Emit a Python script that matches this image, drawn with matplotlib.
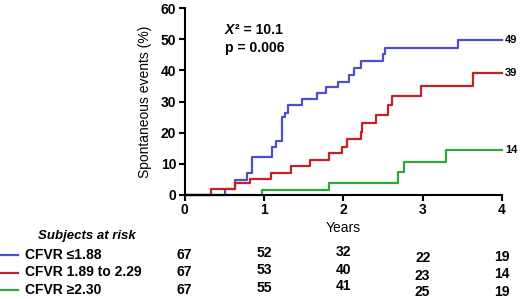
import matplotlib
matplotlib.use("Agg")
import matplotlib.pyplot as plt
import matplotlib.transforms as mtransforms

plt.rcParams['font.family'] = ['Liberation Sans', 'DejaVu Sans']

# ---- data ----
blue_t = [0, 0.51, 0.64, 0.79, 0.85, 1.10, 1.15, 1.23, 1.27, 1.31, 1.48, 1.67, 1.78, 1.93, 2.07, 2.14, 2.22, 2.50, 2.52, 3.45, 4.0]
blue_y = [0, 1.8, 4.8, 7.0, 12.3, 15.5, 17.4, 25.1, 26.2, 28.9, 30.7, 32.6, 34.5, 36.4, 38.5, 40.6, 43.1, 45.4, 47.1, 49.7, 49.7]
red_t = [0, 0.34, 0.64, 0.83, 1.09, 1.34, 1.58, 1.82, 1.99, 2.05, 2.22, 2.24, 2.41, 2.56, 2.62, 2.98, 3.64, 4.0]
red_y = [0, 1.8, 3.7, 5.0, 7.2, 9.3, 11.2, 13.4, 15.5, 17.9, 20.3, 23.0, 25.7, 28.9, 31.8, 35.1, 39.0, 39.0]
green_t = [0, 0.98, 1.82, 2.69, 2.77, 3.30, 4.0]
green_y = [0, 1.6, 3.9, 7.5, 10.5, 14.4, 14.4]

series_names = ["CFVR \u22641.88", "CFVR 1.89 to 2.29", "CFVR \u22652.30"]
end_labels = ["49", "39", "14"]
risk_times = [0, 1, 2, 3, 4]
risk_blue = [67, 52, 32, 22, 19]
risk_red = [67, 53, 40, 23, 14]
risk_green = [67, 55, 41, 25, 19]

colors = ["#4f4fc8", "#c42026", "#2ea83a"]

fig = plt.figure(figsize=(5.2, 2.99), dpi=100)
ax = fig.add_axes([184.5/520, 1-195/299, (502-184.5)/520, (195-8)/299])

for t, y, c in zip([blue_t, red_t, green_t], [blue_y, red_y, green_y], colors):
    ax.step(t, y, where='post', color=c, lw=1.6, clip_on=False)

ax.set_xlim(0, 4)
ax.set_ylim(0, 60)
ax.set_xticks([0, 1, 2, 3, 4])
ax.set_yticks(range(0, 61, 10))
for s in ['top', 'right']:
    ax.spines[s].set_visible(False)
for s in ['left', 'bottom']:
    ax.spines[s].set_linewidth(1.5)
ax.tick_params(direction='out', length=4, width=1.5, labelsize=10, pad=2)
for lab in ax.get_xticklabels() + ax.get_yticklabels():
    lab.set_fontweight('bold')
ax.set_ylabel("Spontaneous events (%)", fontsize=10, labelpad=6)

tx = ax.text(0.51, 53.0, "X", fontsize=10, fontweight='bold', style='italic', va='center')
ax.annotate("\u00b2 = 10.1", xy=(1, 0.5), xycoords=tx, xytext=(0.5, 0), textcoords='offset points',
            fontsize=10, fontweight='bold', va='center', ha='left')
ax.text(0.51, 47.3, "p = 0.006", fontsize=10, fontweight='bold', va='center')

for y, lab in zip([blue_y[-1], red_y[-1], green_y[-1]], end_labels):
    ax.text(4.04, y, lab, fontsize=8, fontweight='bold', va='center', ha='left')

# ---- risk table ----
trans = mtransforms.blended_transform_factory(ax.transData, fig.transFigure)
def fy(px):
    return 1 - px/299

fig.text(38/520, fy(236), "Subjects at risk", fontsize=9.5, fontweight='bold', style='italic', va='center')
fig.text(343/520, fy(228), "Years", fontsize=10, va='center', ha='center')

row_px = [255, 272.5, 289.5]
col_off = [0, -2, -3, 3, 2]
for r, (name, vals, c) in enumerate(zip(series_names, [risk_blue, risk_red, risk_green], colors)):
    ypx = row_px[r]
    fig.add_artist(plt.Line2D([0, 18/520], [fy(ypx), fy(ypx)], color=c, lw=1.6, transform=fig.transFigure))
    fig.text(25/520, fy(ypx), name, fontsize=10, fontweight='bold', va='center', ha='left')
    for t, v, off in zip(risk_times, vals, col_off):
        ax.text(t, fy(ypx + off), str(v), transform=trans, fontsize=10, fontweight='bold',
                va='center', ha='center', clip_on=False)

fig.savefig("out.png", dpi=100)
